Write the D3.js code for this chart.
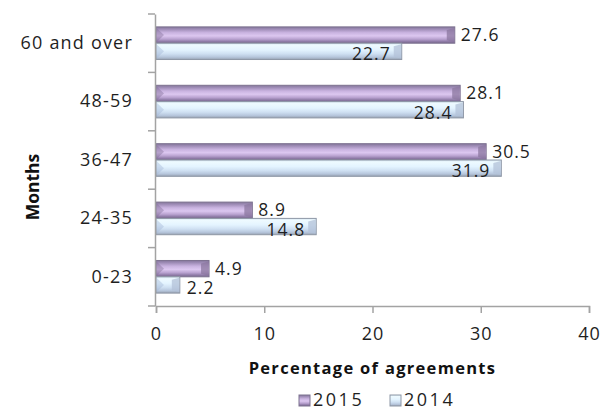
<!DOCTYPE html>
<html>
<head>
<meta charset="utf-8">
<script src="https://cdn.jsdelivr.net/npm/d3@7"></script>
<style>
  html, body { margin: 0; padding: 0; background: #fff; }
  svg { display: block; font-family: "Open Sans", "Liberation Sans", sans-serif; }
</style>
</head>
<body>
<svg id="chart" width="605" height="411"></svg>
<script>
// Age bands (top to bottom) and share of agreements per year
const categories = ["60 and over", "48-59", "36-47", "24-35", "0-23"];
const seriesNames = ["2015", "2014"];
const values2015 = [27.6, 28.1, 30.5, 8.9, 4.9];
const values2014 = [22.7, 28.4, 31.9, 14.8, 2.2];
const xTicks = [0, 10, 20, 30, 40];

const svg = d3.select("#chart");
const textColor = "#1f1f1f";
const axisColor = "#a3a3a3";

const plot = { left: 156, right: 589, top: 14, bottom: 306 };

const x = d3.scaleLinear().domain([0, 40]).range([plot.left, plot.right]);
const y = d3.scaleBand().domain(categories).range([plot.top, plot.bottom]).padding(0);
const ySeries = d3.scaleBand().domain(seriesNames).range([0, y.bandwidth()]).paddingOuter(0.79).paddingInner(0);

// Bevel-like gradients for the two series
const defs = svg.append("defs");
function addGradient(id, stops) {
  const g = defs.append("linearGradient").attr("id", id)
    .attr("x1", 0).attr("y1", 0).attr("x2", 0).attr("y2", 1);
  stops.forEach(([o, c]) => g.append("stop").attr("offset", o).attr("stop-color", c));
}
addGradient("grad2015", [
  [0, "#85779b"], [0.12, "#9b89b3"], [0.35, "#c9b3e0"], [0.55, "#dcc7f0"],
  [0.75, "#b9a2d0"], [0.9, "#8e7aa6"], [1, "#7a6a8e"]
]);
addGradient("grad2014", [
  [0, "#d6e6f2"], [0.12, "#eefaff"], [0.4, "#e4f4ff"], [0.65, "#cfe0f2"],
  [0.85, "#b6c6dc"], [1, "#98a3b3"]
]);

const series = [
  { name: "2015", values: values2015, fill: "url(#grad2015)", stroke: "#7d7290" },
  { name: "2014", values: values2014, fill: "url(#grad2014)", stroke: "#8e97a6" }
];

const bars = series.flatMap(s => categories.map((c, i) => ({
  series: s, cat: c, value: s.values[i]
})));

const barG = svg.append("g");
bars.forEach(d => {
  const y0 = y(d.cat) + ySeries(d.series.name);
  const h = ySeries.bandwidth();
  const x0 = x(0), x1 = x(d.value);
  const g = barG.append("g");
  g.append("rect")
    .attr("x", x0).attr("y", y0).attr("width", x1 - x0).attr("height", h)
    .attr("fill", d.series.fill)
    .attr("stroke", d.series.stroke).attr("stroke-width", 1);
  // bevelled ends
  const bw = Math.min(8, (x1 - x0) / 2);
  g.append("path")
    .attr("d", `M${x0 + 0.5},${y0 + 1}L${x0 + bw},${y0 + h / 2}L${x0 + 0.5},${y0 + h - 1}Z`)
    .attr("fill", d.series.name === "2015" ? "#7c6a94" : "#9fb4d4").attr("opacity", 0.4);
  g.append("path")
    .attr("d", `M${x1 - 0.5},${y0 + 1}L${x1 - bw},${y0 + 3}L${x1 - bw},${y0 + h - 3}L${x1 - 0.5},${y0 + h - 1}Z`)
    .attr("fill", d.series.name === "2015" ? "#8b779f" : "#b3c2d8").attr("opacity", 0.75);
});

// Value labels
const labelG = svg.append("g")
  .attr("font-size", 17.5).attr("letter-spacing", 1).attr("fill", textColor);
bars.forEach(d => {
  const yc = y(d.cat) + ySeries(d.series.name) + ySeries.bandwidth() / 2;
  const xe = x(d.value);
  const t = labelG.append("text").attr("dominant-baseline", "central").text(d.value.toFixed(1));
  if (d.series.name === "2015") {
    t.attr("x", xe + 6).attr("y", yc - 1);
  } else {
    const inside = xe - x(0) > 60;
    t.attr("x", inside ? xe - 11 : xe + 7)
      .attr("y", yc + 2)
      .attr("text-anchor", inside ? "end" : "start");
  }
});

// X axis
const xAxis = d3.axisBottom(x).tickValues(xTicks).tickSize(7).tickPadding(14).tickFormat(d3.format("d"));
const xg = svg.append("g").attr("transform", `translate(0,${plot.bottom})`).call(xAxis);
xg.select(".domain").attr("stroke", axisColor).attr("stroke-width", 1.5);
xg.selectAll(".tick line").attr("stroke", axisColor).attr("stroke-width", 1.5);
xg.selectAll(".tick text").attr("fill", textColor).attr("font-size", 18)
  .attr("letter-spacing", 1).attr("font-family", "Open Sans");

// Y axis: category labels, ticks at band boundaries
const yAxis = d3.axisLeft(y).tickSize(0).tickPadding(22);
const yg = svg.append("g").attr("transform", `translate(${plot.left - 1},0)`).call(yAxis);
yg.select(".domain").attr("stroke", axisColor).attr("stroke-width", 1.5);
yg.selectAll(".tick text").attr("fill", textColor).attr("font-size", 18)
  .attr("letter-spacing", 1.2).attr("font-family", "Open Sans");
const boundaries = categories.map(c => y(c)).concat([plot.bottom]);
yg.selectAll(".boundary").data(boundaries).join("line")
  .attr("class", "boundary")
  .attr("x1", -7).attr("x2", 0).attr("y1", d => d).attr("y2", d => d)
  .attr("stroke", axisColor).attr("stroke-width", 1.5);

// Axis titles
svg.append("text")
  .attr("x", (plot.left + plot.right) / 2).attr("y", 374)
  .attr("text-anchor", "middle").attr("font-weight", "bold").attr("font-size", 16.5)
  .attr("letter-spacing", 1.3).attr("fill", "#111")
  .text("Percentage of agreements");

svg.append("text")
  .attr("transform", `translate(39,${(plot.top + plot.bottom) / 2 + 27}) rotate(-90)`)
  .attr("text-anchor", "middle").attr("font-weight", "bold").attr("font-size", 17.5)
  .attr("fill", "#111")
  .text("Months");

// Legend
const legend = svg.append("g").attr("transform", "translate(299,395)");
const legendX = [0, 91];
series.forEach((s, i) => {
  const g = legend.append("g").attr("transform", `translate(${legendX[i]},0)`);
  g.append("rect").attr("width", 11).attr("height", 11)
    .attr("fill", s.fill).attr("stroke", s.stroke).attr("stroke-width", 1);
  g.append("text").attr("x", 14).attr("y", 11)
    .attr("font-size", 18).attr("letter-spacing", 2.5).attr("fill", textColor)
    .text(s.name);
});
</script>
</body>
</html>
